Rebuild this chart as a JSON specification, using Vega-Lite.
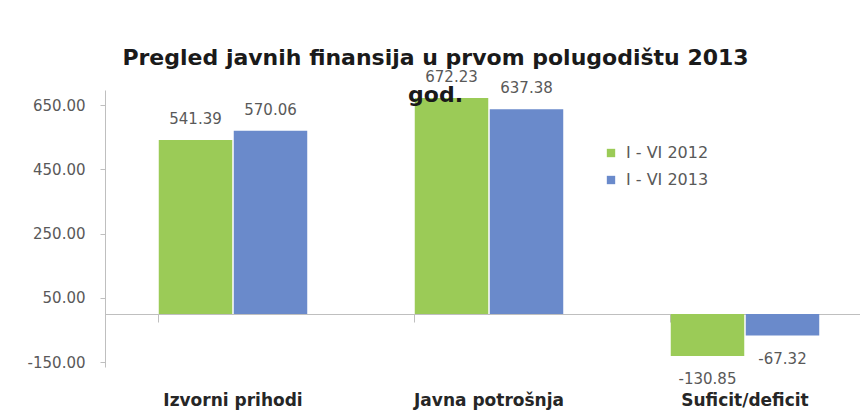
{
  "$schema": "https://vega.github.io/schema/vega-lite/v6.json",
  "autosize": "none",
  "width": 755,
  "height": 277,
  "padding": {"left": 105, "top": 90, "right": 0, "bottom": 50},
  "background": "white",
  "title": {
    "text": ["Pregled javnih finansija u prvom polugodištu 2013", "god."],
    "font": "DejaVu Sans",
    "fontSize": 22,
    "fontWeight": "bold",
    "color": "#1a1a1a",
    "lineHeight": 37,
    "anchor": "middle",
    "dx": -47,
    "offset": -37
  },
  "data": {
    "values": [
      {"kategorija": "Izvorni prihodi", "period": "I - VI 2012", "vrijednost": 541.39},
      {"kategorija": "Izvorni prihodi", "period": "I - VI 2013", "vrijednost": 570.06},
      {"kategorija": "Javna potrošnja", "period": "I - VI 2012", "vrijednost": 672.23},
      {"kategorija": "Javna potrošnja", "period": "I - VI 2013", "vrijednost": 637.38},
      {"kategorija": "Suficit/deficit", "period": "I - VI 2012", "vrijednost": -130.85},
      {"kategorija": "Suficit/deficit", "period": "I - VI 2013", "vrijednost": -67.32}
    ]
  },
  "encoding": {
    "x": {
      "field": "kategorija",
      "type": "nominal",
      "sort": null,
      "scale": {"range": [0, 768], "paddingInner": 0.42, "paddingOuter": 0.21},
      "axis": {
        "title": null,
        "offset": -53,
        "bandPosition": 0,
        "domainColor": "#BFBFBF",
        "tickColor": "#BFBFBF",
        "tickSize": 8,
        "labelPadding": 70,
        "labelBaseline": "top",
        "labelAngle": 0,
        "labelFont": "DejaVu Sans",
        "labelFontSize": 17,
        "labelFontWeight": "bold",
        "labelColor": "#262626"
      }
    },
    "xOffset": {"field": "period", "type": "nominal", "scale": {"paddingInner": 0.02}},
    "y": {
      "field": "vrijednost",
      "type": "quantitative",
      "scale": {"domain": [-165, 697], "nice": false, "zero": false},
      "axis": {
        "title": null,
        "values": [-150, 50, 250, 450, 650],
        "labelExpr": "replace(format(datum.value, '.2f'), '\u2212', '-')",
        "grid": false,
        "domainColor": "#BFBFBF",
        "tickColor": "#BFBFBF",
        "tickSize": 5,
        "labelPadding": 15,
        "labelFont": "DejaVu Sans",
        "labelFontSize": 15,
        "labelColor": "#595959"
      }
    }
  },
  "layer": [
    {
      "mark": {"type": "bar"},
      "encoding": {
        "color": {
          "field": "period",
          "type": "nominal",
          "scale": {"domain": ["I - VI 2012", "I - VI 2013"], "range": ["#9BCB57", "#6A8ACB"]},
          "legend": {
            "title": null,
            "orient": "none",
            "legendX": 498,
            "legendY": 55,
            "symbolType": "square",
            "symbolSize": 70,
            "rowPadding": 11,
            "labelFont": "DejaVu Sans",
            "labelFontSize": 16,
            "labelColor": "#595959",
            "labelOffset": 7
          }
        }
      }
    },
    {
      "transform": [
        {"filter": "datum.vrijednost >= 0"},
        {"calculate": "replace(format(datum.vrijednost, '.2f'), '\u2212', '-')", "as": "oznaka"}
      ],
      "mark": {"type": "text", "dy": -21, "font": "DejaVu Sans", "fontSize": 15, "color": "#595959"},
      "encoding": {"text": {"field": "oznaka", "type": "nominal"}}
    },
    {
      "transform": [
        {"filter": "datum.vrijednost < 0"},
        {"calculate": "replace(format(datum.vrijednost, '.2f'), '\u2212', '-')", "as": "oznaka"}
      ],
      "mark": {"type": "text", "dy": 23, "font": "DejaVu Sans", "fontSize": 15, "color": "#595959"},
      "encoding": {"text": {"field": "oznaka", "type": "nominal"}}
    }
  ],
  "config": {"view": {"stroke": null}}
}
